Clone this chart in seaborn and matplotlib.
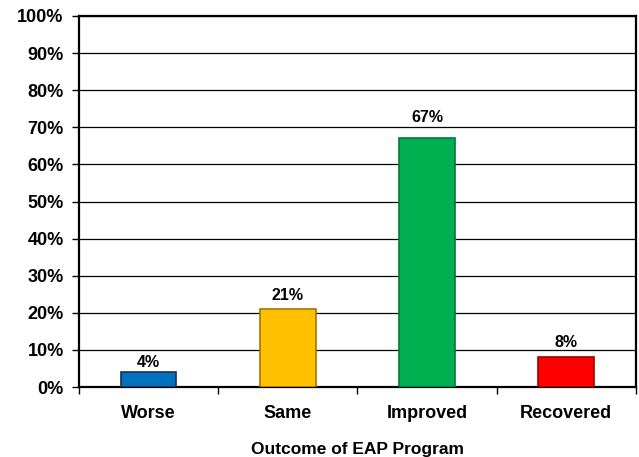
import matplotlib
matplotlib.use('Agg')
import matplotlib.pyplot as plt
import seaborn as sns
import pandas as pd
from matplotlib.ticker import FixedLocator, PercentFormatter

# Chart data
categories = ['Worse', 'Same', 'Improved', 'Recovered']
percentages = [4, 21, 67, 8]
bar_colors = ['#0070C0', '#FFC000', '#00B050', '#FF0000']
edge_colors = ['#1F2F4F', '#A07800', '#007A3A', '#A00000']

df = pd.DataFrame({'outcome': categories, 'pct': percentages})

sns.set_style('white')
plt.rcParams['font.family'] = ['Liberation Sans', 'DejaVu Sans']
plt.rcParams['font.weight'] = 'bold'
plt.rcParams['text.color'] = 'black'
plt.rcParams['axes.labelcolor'] = 'black'
plt.rcParams['xtick.color'] = 'black'
plt.rcParams['ytick.color'] = 'black'

fig = plt.figure(figsize=(6.39, 4.57), dpi=100)
ax = fig.add_axes([0.1236, 0.153, 0.8714, 0.812])

sns.barplot(data=df, x='outcome', y='pct', hue='outcome', palette=bar_colors,
            saturation=1, width=0.4, legend=False, ax=ax, zorder=3)
for patch, ec in zip(ax.patches, edge_colors):
    patch.set_edgecolor(ec)
    patch.set_linewidth(1.2)

# value labels above bars (gap in points, as placed in the original)
label_gap = [3.6, 6.5, 11.5, 7.2]
for i, v in enumerate(percentages):
    ax.annotate(f'{v}%', (i, v), xytext=(0, label_gap[i]), textcoords='offset points',
                ha='center', va='baseline', fontsize=11.5, fontweight='bold', color='black')

ax.set_ylim(0, 100)
ax.set_xlim(-0.5, 3.5)
ax.set_yticks(range(0, 101, 10))
ax.yaxis.set_major_formatter(PercentFormatter(decimals=0))
ax.yaxis.grid(True, color='black', linewidth=0.9, zorder=0)
ax.set_axisbelow(True)

ax.xaxis.set_minor_locator(FixedLocator([-0.5, 0.5, 1.5, 2.5, 3.5]))
ax.tick_params(axis='x', which='major', length=0, pad=13, labelsize=13)
ax.tick_params(axis='x', which='minor', length=5, width=1, direction='out', bottom=True, color='black')
ax.tick_params(axis='y', length=5, width=1, direction='out', left=True, labelsize=13,
               color='black', pad=6)

for lbl in ax.get_xticklabels() + ax.get_yticklabels():
    lbl.set_fontweight('bold')

for s in ax.spines.values():
    s.set_visible(True)
    s.set_color('black')
    s.set_linewidth(1.6)

ax.set_xlabel('Outcome of EAP Program', fontsize=12.5, fontweight='bold', labelpad=14)
ax.set_ylabel('')

fig.savefig('out.png', dpi=100)
